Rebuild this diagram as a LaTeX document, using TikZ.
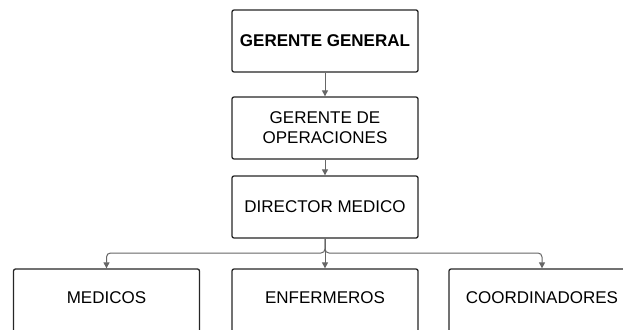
\documentclass[tikz,border=0pt]{standalone}
\usepackage{fontspec}
\setmainfont{Liberation Sans}
\usetikzlibrary{arrows.meta}
\tikzset{
  box/.style={draw=black!85, line width=1.3pt, rounded corners=2pt, fill=white,
    minimum width=186pt, minimum height=62pt, align=center,
    font=\fontsize{17}{20}\selectfont},
  lowbox/.style={box, minimum height=66pt, text depth=8pt},
  link/.style={draw=black!60, line width=1pt, -{Triangle[length=6pt, width=6pt]}}
}
\newcommand{\drawBranch}[2]{
  \draw[link, rounded corners=4pt] (#1) -- (split) -| (#2);
}

\begin{document}
\begin{tikzpicture}[x=1pt, y=-1pt]
  \useasboundingbox (0,0) rectangle (623,329);
  % Nodes
  \node[box] (gg) at (325,41) {\textbf{GERENTE GENERAL}};
  \node[box] (go) at (325,128) {GERENTE DE\\OPERACIONES};
  \node[box] (dm) at (325,207) {DIRECTOR MEDICO};
  \node[lowbox] (med) at (106.5,302) {MEDICOS};
  \node[lowbox] (enf) at (325,302) {ENFERMEROS};
  \node[lowbox] (coo) at (542,302) {COORDINADORES};
  \coordinate (split) at (325,253);
  % Links
  \draw[link] (gg) -- (go);
  \draw[link] (go) -- (dm);
  \draw[link] (dm) -- (enf);
  \drawBranch{dm.south}{med.north}
  \drawBranch{dm.south}{coo.north}
\end{tikzpicture}
\end{document}
